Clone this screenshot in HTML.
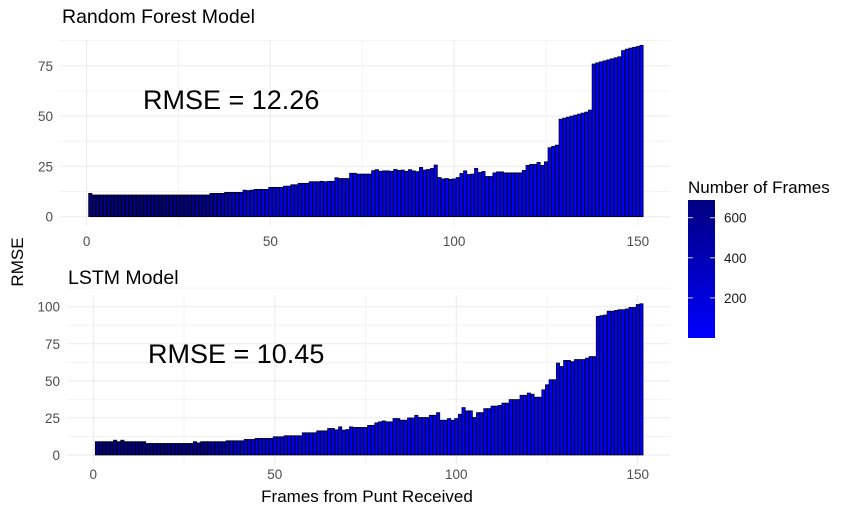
<!DOCTYPE html>
<html><head><meta charset="utf-8"><style>
html,body{margin:0;padding:0;background:#fff;}
svg{display:block;font-family:"Liberation Sans",Arial,sans-serif;}
</style></head><body>
<svg id="chart" width="868" height="520" viewBox="0 0 868 520">
<defs><linearGradient id="lg" x1="0" y1="1" x2="0" y2="0"><stop offset="0" stop-color="#0000ff"/><stop offset="1" stop-color="#000080"/></linearGradient></defs>
<g id="top"></g>
<g id="bot"></g>
<text x="62" y="23" font-size="19.5" fill="#000">Random Forest Model</text>
<text x="68" y="284" font-size="19.5" fill="#000">LSTM Model</text>
<text transform="translate(23,262) rotate(-90)" text-anchor="middle" font-size="17" fill="#000">RMSE</text>
<text x="367" y="502" text-anchor="middle" font-size="17" fill="#000">Frames from Punt Received</text>
<g>
<text x="688" y="193" font-size="17" fill="#000">Number of Frames</text>
<rect x="688" y="200" width="27" height="138" fill="url(#lg)"/>
<g id="legticks"></g>
</g>
</svg>
<script>
const xs=[];for(let i=1;i<=151;i++)xs.push(i);
const rfValues=[11.6,
10.8,10.8,10.8,10.8,10.8,10.8,10.8,10.8,10.8,10.8,10.8,10.8,10.8,10.8,10.8,10.8,10.8,10.8,10.8,10.8,10.8,10.8,10.8,10.8,10.8,10.8,10.8,10.8,10.8,10.8,10.8,10.8,
11.6,11.6,11.6,11.6,12.1,12.1,12.1,12.1,12.1,13.2,13.0,13.2,13.6,13.6,13.6,13.6,14.6,14.6,14.6,14.6,
15.2,15.2,15.9,15.9,16.6,16.6,16.6,17.4,17.4,17.4,17.6,17.4,17.6,17.6,19.4,19.0,19.0,19.0,21.6,21.6,
21.2,21.2,21.2,21.2,22.9,23.4,22.6,22.8,22.8,22.6,23.5,23.0,23.2,22.6,23.4,22.8,22.4,
24.5,23.2,23.5,24.0,25.7,19.5,18.8,19.0,18.6,18.8,19.5,21.5,22.8,21.0,21.2,24.0,22.0,22.5,20.0,20.0,
21.8,22.3,22.3,21.8,21.8,21.8,21.8,21.8,23.0,25.5,26.0,26.0,27.0,25.5,27.3,34.3,35.0,35.6,
48.5,49.0,49.5,50.0,50.5,51.0,51.5,52.0,53.0,75.9,76.5,77.0,77.5,78.0,78.5,79.0,79.5,
82.6,83.3,83.8,84.2,84.6,85.2];
const lstmValues=[9,9,9,9,9,10,9,10,9,9,9,9,9,9,
7.8,7.8,7.8,7.8,7.8,7.8,7.8,7.8,7.8,7.8,7.8,7.8,7.8,9,8.2,9,9,9,9,9,9,9,
9.6,9.6,9.6,9.6,9.6,10.5,10.5,10.5,11.2,11.2,11.2,11.2,11.2,12.3,12.3,12.3,13,13,13,13,13,
15,15,15,15,16.3,16.3,16.3,17.9,17.9,17,
19,16.8,17.2,19,18.6,18.6,18.6,18.6,20,20,
21.7,22.4,23,22.4,22.4,24.6,24.6,23.5,23.5,25,
25,26.8,25.3,25.3,25.3,26.8,26.8,28.6,23.5,23.5,
24.6,23.5,24.6,27.5,32,29.8,29.8,25.3,28.6,28.6,
31.3,31.3,33,33,33.5,35,35,37.4,37.4,37.4,
40.3,40.3,41.8,41,39,39,44,47.4,50.8,50.8,
62,59.7,63.8,63.8,63,64.4,64.4,64.4,65.3,66.4,
66.4,93.5,94,94.4,97,97,97.5,98,98,98.5,99.5,99.5,101.5,102];
const frameCounts=[685,684,683,682,681,680,679,678,677,676,675,674,673,672,671,670,669,668,667,665,
663,660,657,653,648,642,635,625,612,598,580,560,535,505,470,430,390,350,310,275,
245,220,200,182,167,155,145,136,128,121,115,110,105,100,96,92,88,85,82,79,
76,73,70,68,66,64,62,60,58,56,54,52,50,48,46,44,43,42,41,40,
39,38,37,36,35,34,33,32,31,30,29,28,27,26,25,24,23,22,21,20,
19,18,17,16,15,15,14,14,13,13,12,12,11,11,10,10,9,9,8,8,
7,7,7,6,6,6,5,5,5,4,4,4,4,3,3,3,3,2,2,2,2,2,2,1,1,1,1,1,1,1,1];
const xTicks=[0,50,100,150];
const rfYTicks=[0,25,50,75];
const lstmYTicks=[0,25,50,75,100];
const legendTicks=[200,400,600];
const NS='http://www.w3.org/2000/svg';
function mk(tag,attrs,parent){const e=document.createElementNS(NS,tag);for(const k in attrs)e.setAttribute(k,attrs[k]);parent.appendChild(e);return e;}
function fillFor(n){const t=Math.min(1,n/690);const b=Math.round(255-t*127);return 'rgb(0,0,'+b+')';}
function panel(g,o){
  const X=v=>o.x0+v*o.ux, Y=v=>o.y0-v*o.uy;
  for(let v=0;v<=o.ymax;v+=12.5){const l=mk('line',{x1:o.left,x2:670,y1:Y(v),y2:Y(v),stroke:(v%25===0)?'#ebebeb':'#f3f3f3','stroke-width':1},g);

}
  for(let v=0;v<=150;v+=25){const l=mk('line',{x1:X(v),x2:X(v),y1:o.top,y2:Y(0)+9,stroke:(v%50===0)?'#ebebeb':'#f3f3f3','stroke-width':1},g);

}
  o.yt.forEach(v=>{const t=mk('text',{x:o.left-7,y:Y(v)+5,'text-anchor':'end','font-size':13.5,fill:'#4d4d4d'},g);t.textContent=v;

});
  xTicks.forEach(v=>{const t=mk('text',{x:X(v),y:o.xly,'text-anchor':'middle','font-size':13.5,fill:'#4d4d4d'},g);t.textContent=v;

});
  const w=o.ux*0.9;
  o.vals.forEach((v,i)=>{const r=mk('rect',{x:X(xs[i])-w/2,y:Y(v),width:w,height:Y(0)-Y(v),fill:fillFor(frameCounts[i]),stroke:'#000','stroke-width':0.7},g);

});
  const a=mk('text',{x:o.ax,y:o.ay,'font-size':27,fill:'#000'},g);a.textContent=o.label;


}
panel(document.getElementById('top'),{x0:86.6,ux:3.675,y0:216.7,uy:2.012,ymax:87.5,left:60,top:40,vals:rfValues,yt:rfYTicks,xly:246,ax:143,ay:109,label:'RMSE = 12.26'});
panel(document.getElementById('bot'),{x0:93.3,ux:3.63,y0:455,uy:1.483,ymax:112.5,left:67,top:295,vals:lstmValues,yt:lstmYTicks,xly:479,ax:148,ay:363,label:'RMSE = 10.45'});
const lg=document.getElementById('legticks');
legendTicks.forEach(v=>{const y=338-v*0.2005;
const l1=mk('line',{x1:688,x2:693,y1:y,y2:y,stroke:'#ccd',"stroke-width":1},lg);


const l2=mk('line',{x1:710,x2:715,y1:y,y2:y,stroke:'#ccd',"stroke-width":1},lg);


const t=mk('text',{x:724,y:y+5,'font-size':13.5,fill:'#1a1a1a'},lg);t.textContent=v;

});
</script>
</body></html>
